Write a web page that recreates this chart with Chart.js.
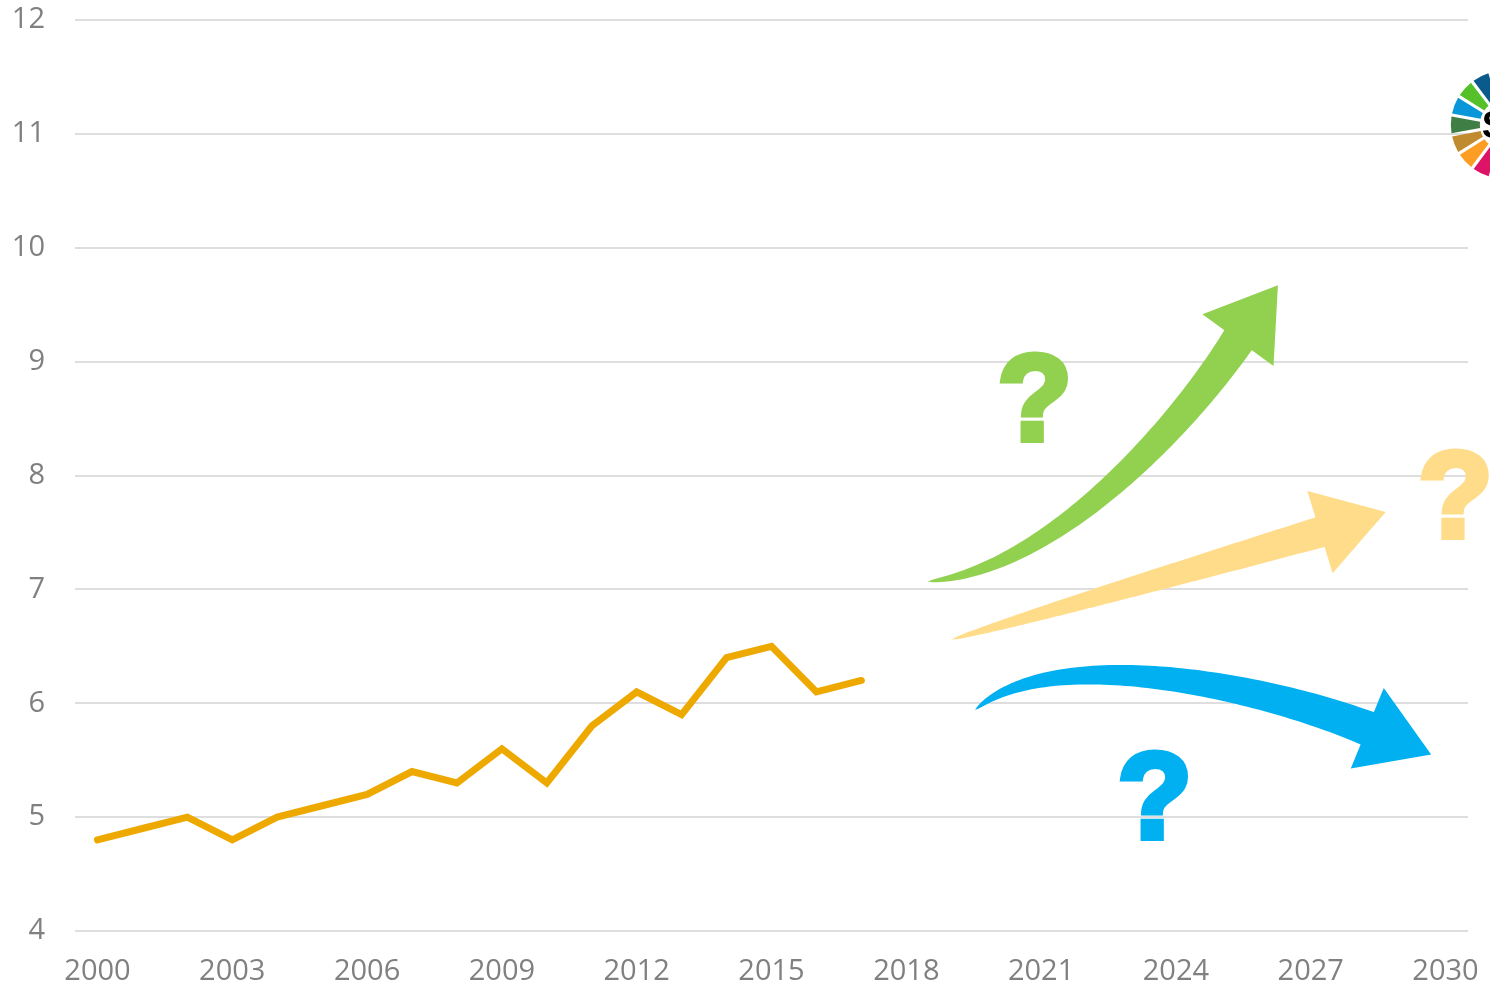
<!DOCTYPE html>
<html>
<head>
<meta charset="utf-8">
<title>Trend to 2030</title>
<script src="https://cdn.jsdelivr.net/npm/chart.js@4.4.1/dist/chart.umd.min.js"></script>
<style>
  html, body { margin: 0; padding: 0; background: #ffffff; }
  #wrap { width: 1490px; height: 987px; position: relative; }
</style>
</head>
<body>
<div id="wrap"><canvas id="trendChart"></canvas></div>
<script>
// years on the axis (2000 - 2030)
const years = [];
for (let y = 2000; y <= 2030; y++) years.push(String(y));

// observed values 2000 - 2017
const observed = [4.8, 4.9, 5.0, 4.8, 5.0, 5.1, 5.2, 5.4, 5.3, 5.6, 5.3, 5.8, 6.1, 5.9, 6.4, 6.5, 6.1, 6.2];

// y axis range
const yMin = 4;
const yMax = 12;

// decorative scenario arrows, in axis units (year, value)
const scenarios = [
  { color: '#92D050', from: [2018.48, 7.07], c1: [2021.19, 7.17], c2: [2024.08, 8.40], to: [2025.42, 9.21], tip: [2026.27, 9.67], shaft: 34, head: 88,
    mark: [2020.86, 8.31] },
  { color: '#FFDC8A', from: [2019.01, 6.56], to: [2027.27, 7.51], tip: [2028.67, 7.68], shaft: 31, head: 86,
    mark: [2030.22, 7.46] },
  { color: '#00B0F0', from: [2019.53, 5.94], c1: [2021.20, 6.53], c2: [2025.87, 6.16], to: [2028.32, 5.77], tip: [2029.68, 5.55], shaft: 35, head: 87,
    mark: [2023.53, 4.82] }
];

// SDG wheel colours (goals 1..17)
const sdgColors = ['#E5243B', '#DDA63A', '#4C9F38', '#C5192D', '#FF3A21', '#26BDE2', '#FCC30B', '#A21942', '#FD6925',
  '#DD1367', '#FD9D24', '#BF8B2E', '#3F7E44', '#0A97D9', '#56C02B', '#0B5A8C', '#19486A'];
const sdgCenter = [2031.32, 11.08];

/**
 * tapered arrow along a cubic curve, with a triangular head
 */
function drawArrow(ctx, p0, p1, p2, p3, tip, shaftW, headW, color) {
  const N = 80;
  const left = [], right = [];
  for (let i = 0; i <= N; i++) {
    const t = i / N, u = 1 - t;
    const x = u*u*u*p0[0] + 3*u*u*t*p1[0] + 3*u*t*t*p2[0] + t*t*t*p3[0];
    const y = u*u*u*p0[1] + 3*u*u*t*p1[1] + 3*u*t*t*p2[1] + t*t*t*p3[1];
    let dx = 3*u*u*(p1[0]-p0[0]) + 6*u*t*(p2[0]-p1[0]) + 3*t*t*(p3[0]-p2[0]);
    let dy = 3*u*u*(p1[1]-p0[1]) + 6*u*t*(p2[1]-p1[1]) + 3*t*t*(p3[1]-p2[1]);
    const len = Math.hypot(dx, dy) || 1;
    const nx = -dy / len, ny = dx / len;
    const h = shaftW / 2 * Math.pow(t, 0.6);
    left.push([x + nx*h, y + ny*h]);
    right.push([x - nx*h, y - ny*h]);
  }
  ctx.fillStyle = color;
  ctx.beginPath();
  ctx.moveTo(left[0][0], left[0][1]);
  left.forEach(p => ctx.lineTo(p[0], p[1]));
  right.reverse().forEach(p => ctx.lineTo(p[0], p[1]));
  ctx.closePath();
  ctx.fill();

  // head
  let dx = tip[0] - p3[0], dy = tip[1] - p3[1];
  const len = Math.hypot(dx, dy);
  const px = -dy / len, py = dx / len;
  const back = 3;
  const bx = p3[0] - dx/len*back, by = p3[1] - dy/len*back;
  ctx.beginPath();
  ctx.moveTo(bx + px*headW/2, by + py*headW/2);
  ctx.lineTo(tip[0], tip[1]);
  ctx.lineTo(bx - px*headW/2, by - py*headW/2);
  ctx.closePath();
  ctx.fill();
}

const decorPlugin = {
  id: 'decor',
  afterDraw(chart) {
    const ctx = chart.ctx;
    const xs = chart.scales.x, ys = chart.scales.y;
    const x0 = xs.getPixelForValue(0);
    const step = xs.getPixelForValue(1) - x0;
    const P = v => [x0 + (v[0] - 2000) * step, ys.getPixelForValue(v[1])];

    ctx.save();
    scenarios.forEach(s => {
      const a = P(s.from), b = P(s.to);
      const c1 = s.c1 ? P(s.c1) : [a[0] + (b[0]-a[0])/3, a[1] + (b[1]-a[1])/3];
      const c2 = s.c2 ? P(s.c2) : [a[0] + 2*(b[0]-a[0])/3, a[1] + 2*(b[1]-a[1])/3];
      drawArrow(ctx, a, c1, c2, b, P(s.tip), s.shaft, s.head, s.color);

      // question mark
      const m = P(s.mark);
      ctx.font = 'bold 122px "Liberation Sans", Arial, sans-serif';
      ctx.textAlign = 'center';
      ctx.textBaseline = 'alphabetic';
      ctx.fillStyle = s.color;
      ctx.strokeStyle = s.color;
      ctx.lineWidth = 6;
      ctx.lineJoin = 'miter';
      ctx.fillText('?', m[0], m[1]);
      ctx.strokeText('?', m[0], m[1]);
    });

    // SDG wheel (partly off the page)
    const c = P(sdgCenter);
    const rOut = 54, rIn = 25;
    const seg = Math.PI * 2 / 17;
    const start = -Math.PI / 2 + 0.09;
    sdgColors.forEach((col, i) => {
      const a0 = start + i*seg + 0.03, a1 = start + (i+1)*seg - 0.03;
      ctx.beginPath();
      ctx.arc(c[0], c[1], rOut, a0, a1);
      ctx.arc(c[0], c[1], rIn, a1 - 0.03, a0 + 0.03, true);
      ctx.closePath();
      ctx.fillStyle = col;
      ctx.fill();
    });
    ctx.fillStyle = '#000000';
    ctx.font = 'bold 38px "Liberation Sans", Arial, sans-serif';
    ctx.textAlign = 'left';
    ctx.textBaseline = 'middle';
    ctx.fillText('SDGs', c[0] - 23, c[1] + 3);
    ctx.restore();
  }
};

document.addEventListener('DOMContentLoaded', function() {
  const canvas = document.getElementById('trendChart');
  const tickFont = { family: '"Open Sans", sans-serif', size: 29 };

  new Chart(canvas, {
    type: 'line',
    data: {
      labels: years,
      datasets: [{
        data: observed,
        borderColor: '#EDA900',
        borderWidth: 7,
        borderCapStyle: 'round',
        pointRadius: 0,
        tension: 0,
        fill: false
      }]
    },
    options: {
      responsive: true,
      maintainAspectRatio: false,
      animation: false,
      layout: { padding: { top: 20, right: 22, left: 0, bottom: 0 } },
      plugins: {
        legend: { display: false },
        tooltip: { enabled: false }
      },
      scales: {
        x: {
          offset: true,
          // invisible grid, only used so the tick length spaces the labels
          grid: { display: true, color: 'transparent', tickColor: 'transparent', drawTicks: true, tickLength: 20 },
          border: { display: false },
          ticks: {
            autoSkip: false,
            maxRotation: 0,
            padding: 3,
            color: '#808080',
            font: tickFont,
            callback: function(val, idx) {
              return idx % 3 === 0 ? years[idx] : '';
            }
          },
          afterFit: function(scale) { scale.height = 56; }
        },
        y: {
          min: yMin,
          max: yMax,
          grid: { color: '#DEDEDE', lineWidth: 2, drawTicks: true, tickLength: 30, tickColor: 'transparent' },
          border: { display: false },
          ticks: {
            stepSize: 1,
            padding: 0,
            color: '#808080',
            font: tickFont
          },
          afterFit: function(scale) { scale.width = 75; }
        }
      }
    },
    plugins: [decorPlugin]
  });
});
</script>
</body>
</html>
